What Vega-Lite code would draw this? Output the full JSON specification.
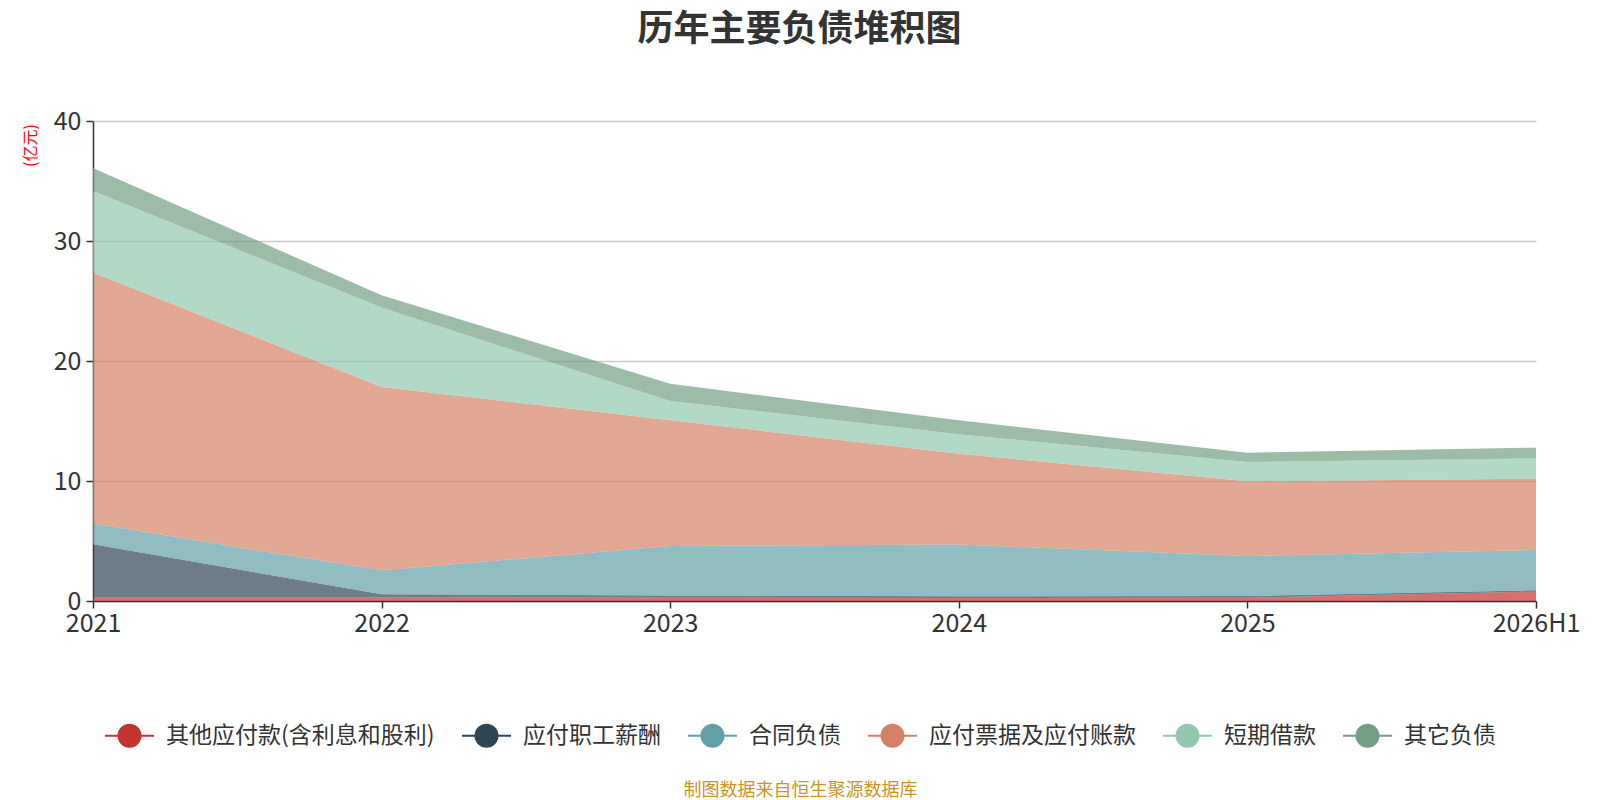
{
  "$schema": "https://vega.github.io/schema/vega-lite/v6.json",
  "width": 1443,
  "height": 480,
  "autosize": {"type": "none"},
  "padding": {"left": 93, "top": 121, "right": 64, "bottom": 199},
  "background": "white",
  "config": {
    "view": {"stroke": null},
    "font": "Noto Sans CJK SC"
  },
  "title": {
    "text": "历年主要负债堆积图",
    "fontSize": 36,
    "fontWeight": "bold",
    "color": "#333333",
    "anchor": "middle",
    "dx": -15,
    "offset": 60
  },
  "data": {
    "values": [
      {"year": "2021", "item": "其他应付款(含利息和股利)", "rank": 1, "value": 0.3},
      {"year": "2021", "item": "应付职工薪酬", "rank": 2, "value": 4.43},
      {"year": "2021", "item": "合同负债", "rank": 3, "value": 1.72},
      {"year": "2021", "item": "应付票据及应付账款", "rank": 4, "value": 20.92},
      {"year": "2021", "item": "短期借款", "rank": 5, "value": 6.8},
      {"year": "2021", "item": "其它负债", "rank": 6, "value": 1.91},
      {"year": "2022", "item": "其他应付款(含利息和股利)", "rank": 1, "value": 0.3},
      {"year": "2022", "item": "应付职工薪酬", "rank": 2, "value": 0.26},
      {"year": "2022", "item": "合同负债", "rank": 3, "value": 2.0},
      {"year": "2022", "item": "应付票据及应付账款", "rank": 4, "value": 15.27},
      {"year": "2022", "item": "短期借款", "rank": 5, "value": 6.62},
      {"year": "2022", "item": "其它负债", "rank": 6, "value": 1.02},
      {"year": "2023", "item": "其他应付款(含利息和股利)", "rank": 1, "value": 0.28},
      {"year": "2023", "item": "应付职工薪酬", "rank": 2, "value": 0.17},
      {"year": "2023", "item": "合同负债", "rank": 3, "value": 4.13},
      {"year": "2023", "item": "应付票据及应付账款", "rank": 4, "value": 10.48},
      {"year": "2023", "item": "短期借款", "rank": 5, "value": 1.61},
      {"year": "2023", "item": "其它负债", "rank": 6, "value": 1.43},
      {"year": "2024", "item": "其他应付款(含利息和股利)", "rank": 1, "value": 0.25},
      {"year": "2024", "item": "应付职工薪酬", "rank": 2, "value": 0.15},
      {"year": "2024", "item": "合同负债", "rank": 3, "value": 4.3},
      {"year": "2024", "item": "应付票据及应付账款", "rank": 4, "value": 7.58},
      {"year": "2024", "item": "短期借款", "rank": 5, "value": 1.61},
      {"year": "2024", "item": "其它负债", "rank": 6, "value": 1.17},
      {"year": "2025", "item": "其他应付款(含利息和股利)", "rank": 1, "value": 0.28},
      {"year": "2025", "item": "应付职工薪酬", "rank": 2, "value": 0.14},
      {"year": "2025", "item": "合同负债", "rank": 3, "value": 3.33},
      {"year": "2025", "item": "应付票据及应付账款", "rank": 4, "value": 6.22},
      {"year": "2025", "item": "短期借款", "rank": 5, "value": 1.61},
      {"year": "2025", "item": "其它负债", "rank": 6, "value": 0.78},
      {"year": "2026H1", "item": "其他应付款(含利息和股利)", "rank": 1, "value": 0.78},
      {"year": "2026H1", "item": "应付职工薪酬", "rank": 2, "value": 0.11},
      {"year": "2026H1", "item": "合同负债", "rank": 3, "value": 3.36},
      {"year": "2026H1", "item": "应付票据及应付账款", "rank": 4, "value": 5.95},
      {"year": "2026H1", "item": "短期借款", "rank": 5, "value": 1.69},
      {"year": "2026H1", "item": "其它负债", "rank": 6, "value": 0.89}
    ]
  },
  "mark": {"type": "area", "opacity": 0.7, "interpolate": "linear"},
  "encoding": {
    "x": {
      "field": "year",
      "type": "ordinal",
      "scale": {"type": "point", "padding": 0},
      "axis": {
        "title": "制图数据来自恒生聚源数据库",
        "titleColor": "#c8952a",
        "titleFontSize": 18,
        "titleFontWeight": "normal",
        "titleX": 707,
        "titleY": 189,
        "titleBaseline": "middle",
        "titleAlign": "center",
        "labelAngle": 0,
        "labelFontSize": 25,
        "labelColor": "#333333",
        "labelPadding": 3,
        "domainColor": "#333333",
        "domainWidth": 1.5,
        "tickColor": "#333333",
        "tickSize": 7,
        "tickWidth": 1.5,
        "grid": false
      }
    },
    "y": {
      "field": "value",
      "type": "quantitative",
      "stack": "zero",
      "scale": {"domain": [0, 40]},
      "axis": {
        "title": "(亿元)",
        "titleColor": "#ff0000",
        "titleFontSize": 16,
        "titleFontWeight": "normal",
        "titleX": -63,
        "titleY": 24,
        "titleAlign": "center",
        "titleBaseline": "middle",
        "values": [0, 10, 20, 30, 40],
        "labelFontSize": 25,
        "labelColor": "#333333",
        "labelPadding": 5,
        "domainColor": "#333333",
        "domainWidth": 1.5,
        "tickColor": "#333333",
        "tickSize": 7,
        "tickWidth": 1.5,
        "gridColor": "#cccccc",
        "gridWidth": 1.5
      }
    },
    "color": {
      "field": "item",
      "type": "nominal",
      "scale": {
        "domain": ["其他应付款(含利息和股利)", "应付职工薪酬", "合同负债", "应付票据及应付账款", "短期借款", "其它负债"],
        "range": ["#c23531", "#2f4554", "#61a0a8", "#d48265", "#91c7ae", "#749f83"]
      },
      "legend": {
        "title": null,
        "orient": "none",
        "direction": "horizontal",
        "columns": 6,
        "legendX": 11,
        "legendY": 589,
        "symbolType": "M-1,0L1,0M-0.45,0A0.45,0.45,0,1,1,0.45,0A0.45,0.45,0,1,1,-0.45,0Z",
        "symbolSize": 2401,
        "symbolStrokeWidth": 2,
        "symbolOpacity": 1,
        "labelFontSize": 23,
        "labelColor": "#333333",
        "labelOffset": 11,
        "labelLimit": 500,
        "columnPadding": 23,
        "encode": {
          "symbols": {
            "update": {
              "stroke": {"scale": "color", "field": "value"},
              "fill": {"scale": "color", "field": "value"},
              "opacity": {"value": 1}
            }
          }
        }
      }
    },
    "order": {"field": "rank", "type": "quantitative"}
  }
}
